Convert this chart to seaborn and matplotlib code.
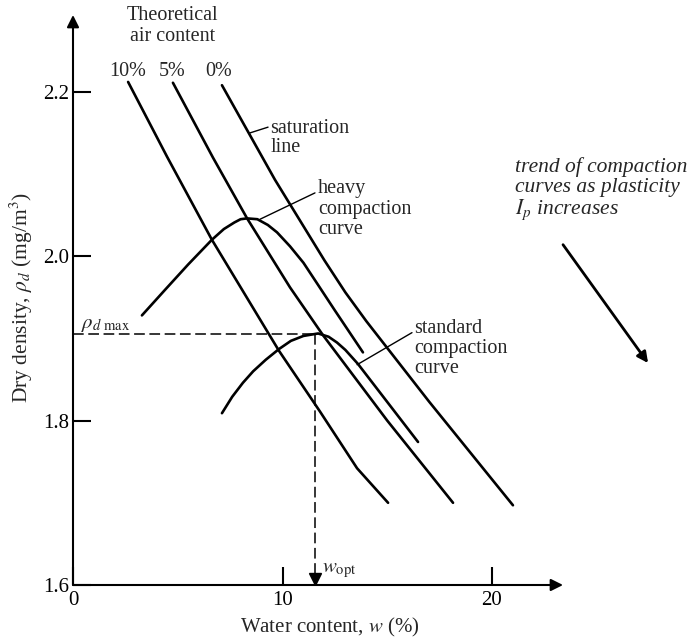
import numpy as np
import pandas as pd
import matplotlib.pyplot as plt
import seaborn as sns

# Values: water content w (%) and dry density (mg/m3)
air10_w = [2.63, 4.49, 6.63, 9.83, 11.79, 13.56, 15.04]
air10_rho = [2.212, 2.121, 2.020, 1.885, 1.811, 1.742, 1.700]

air5_w = [4.77, 6.68, 8.31, 10.36, 11.93, 15.0, 18.14]
air5_rho = [2.211, 2.120, 2.046, 1.962, 1.904, 1.800, 1.700]

air0_w = [7.11, 9.64, 12.0, 13.0, 14.0, 17.0, 21.0]
air0_rho = [2.208, 2.093, 1.995, 1.956, 1.921, 1.823, 1.697]

heavy_w = [3.29, 4.39, 5.5, 6.63, 7.2, 7.7, 8.0, 8.31, 8.8, 9.3, 9.74, 10.36,
           11.0, 11.7, 12.5, 13.84]
heavy_rho = [1.928, 1.959, 1.990, 2.020, 2.033, 2.041, 2.045, 2.046, 2.045,
             2.038, 2.029, 2.012, 1.992, 1.965, 1.934, 1.883]

std_w = [7.11, 7.6, 8.11, 8.6, 9.2, 9.83, 10.4, 11.0, 11.7, 12.2, 12.6, 13.0,
         13.6, 16.47]
std_rho = [1.809, 1.829, 1.846, 1.860, 1.874, 1.887, 1.897, 1.903, 1.906,
           1.902, 1.895, 1.886, 1.869, 1.774]

rho_d_max = 1.905
w_opt = 11.55

air_labels = ["10%", "5%", "0%"]
air_label_w = [2.6, 4.75, 6.97]

xticks = [0, 10, 20]
yticks = [1.6, 1.8, 2.0, 2.2]

sns.set_style("ticks")
plt.rcParams['font.family'] = ['Liberation Serif', 'DejaVu Serif']
plt.rcParams['mathtext.fontset'] = 'stix'

fig = plt.figure(figsize=(6.91, 6.4), dpi=100)
ax = fig.add_axes([73 / 691, 55 / 640, 490 / 691, 570 / 640])

curves = [(air10_w, air10_rho), (air5_w, air5_rho), (air0_w, air0_rho),
          (heavy_w, heavy_rho), (std_w, std_rho)]
for cw, cr in curves:
    sns.lineplot(x=cw, y=cr, ax=ax, color='black', lw=1.9,
                 estimator=None, sort=False)

# optimum guide lines
ax.plot([0, 11.7], [rho_d_max, rho_d_max], color='black', lw=1.1,
        dashes=(7, 3))
ax.plot([w_opt, w_opt], [rho_d_max, 1.612], color='black', lw=1.1,
        dashes=(7, 3))
ax.plot([w_opt], [1.6075], marker='v', color='black', ms=8, clip_on=False)

xmax = 490 / 20.95
ymax = 1.6 + 570 / 822
ax.set_xlim(0, xmax)
ax.set_ylim(1.6, ymax)

for s in ax.spines.values():
    s.set_visible(False)
ax.annotate('', xy=(xmax, 1.6), xytext=(0, 1.6),
            arrowprops=dict(arrowstyle='-|>', color='black', lw=1.5,
                            mutation_scale=18, shrinkA=0, shrinkB=0),
            annotation_clip=False)
ax.annotate('', xy=(0, ymax), xytext=(0, 1.6),
            arrowprops=dict(arrowstyle='-|>', color='black', lw=1.5,
                            mutation_scale=18, shrinkA=0, shrinkB=0),
            annotation_clip=False)

ax.set_xticks(xticks)
ax.set_yticks(yticks)
ax.set_xticklabels([str(t) for t in xticks])
ax.set_yticklabels([f"{t:.1f}" for t in yticks])
ax.tick_params(direction='in', length=13, width=1.5, labelsize=15,
               colors='black')
ax.tick_params(axis='x', pad=4)
ax.tick_params(axis='y', pad=3)

ax.set_xlabel("Water content, $w$ (%)", fontsize=15)
ax.xaxis.set_label_coords(0.525, -0.055)
ax.set_ylabel(r"Dry density, $\rho_d$ (mg/m$^3$)", fontsize=15.5)
ax.yaxis.set_label_coords(-0.077, 0.505)

# labels
fs = 14.5
ax.text(4.73, 2.304, "Theoretical\nair content", ha='center', va='top',
        fontsize=fs, linespacing=1.15, clip_on=False)
for lab, lw_ in zip(air_labels, air_label_w):
    ax.text(lw_, 2.225, lab, ha='center', va='center', fontsize=fs)

ax.plot([8.45, 9.31], [2.150, 2.157], color='black', lw=1)
ax.text(9.42, 2.167, "saturation\nline", ha='left', va='top', fontsize=fs,
        linespacing=1.0)

ax.plot([8.93, 11.55], [2.045, 2.077], color='black', lw=1)
ax.text(11.7, 2.094, "heavy\ncompaction\ncurve", ha='left', va='top',
        fontsize=fs, linespacing=1.12)

ax.plot([13.56, 16.18], [1.868, 1.907], color='black', lw=1)
ax.text(16.3, 1.924, "standard\ncompaction\ncurve", ha='left', va='top',
        fontsize=fs, linespacing=1.08)

ax.text(0.4, 1.913, r"$\rho_{d\ \mathrm{max}}$", ha='left', va='baseline',
        fontsize=15)
ax.text(11.9, 1.618, r"$w_{\mathrm{opt}}$", ha='left', va='center',
        fontsize=15)

ax.text(21.1, 2.120, "trend of compaction\ncurves as plasticity\n$I_p$ increases",
        ha='left', va='top', fontsize=15.5, style='italic', linespacing=1.05,
        clip_on=False)
ax.annotate('', xy=(27.45, 1.870), xytext=(23.39, 2.014),
            arrowprops=dict(arrowstyle='-|>', color='black', lw=2,
                            mutation_scale=16, shrinkA=0, shrinkB=0),
            annotation_clip=False)

fig.savefig("out.png", dpi=100)
